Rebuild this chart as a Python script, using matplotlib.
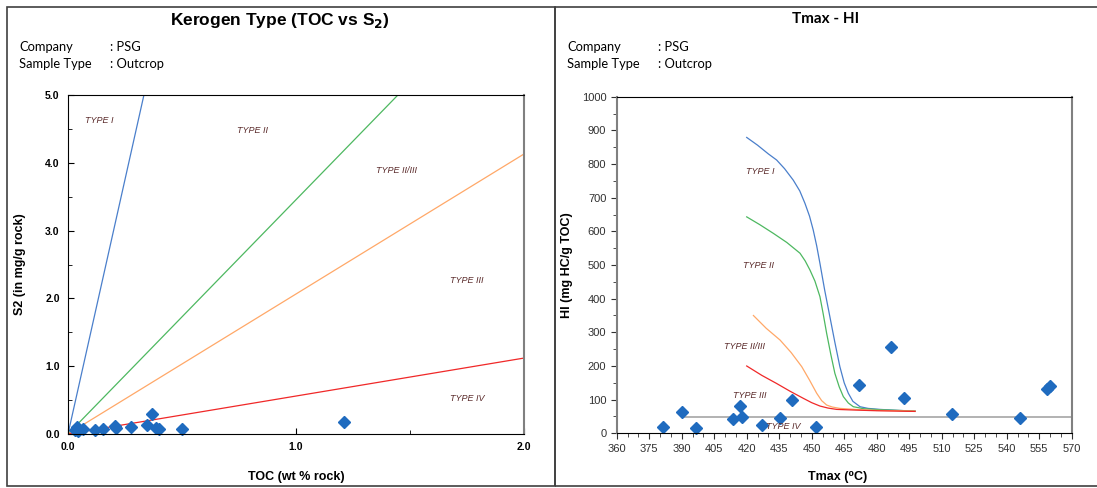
import numpy as np
import matplotlib.pyplot as plt
from matplotlib.patches import Rectangle
from matplotlib.ticker import MultipleLocator

plt.rcParams['font.family'] = ['Liberation Sans', 'DejaVu Sans']

# --- TOC vs S2 samples ---
toc = [0.03, 0.04, 0.045, 0.065, 0.12, 0.155, 0.205, 0.21, 0.275, 0.345, 0.37, 0.385, 0.40, 0.50, 1.21]
s2 = [0.06, 0.11, 0.04, 0.07, 0.06, 0.07, 0.12, 0.09, 0.11, 0.13, 0.30, 0.09, 0.07, 0.08, 0.17]

# kerogen boundary lines (TOC, S2 end points)
kero_toc = [[0, 0.333], [0, 1.447], [0, 2.0], [0, 2.0]]
kero_s2 = [[0, 5.0], [0, 5.0], [0, 4.13], [0, 1.12]]
kero_col = ['#4A7FCB', '#4DB860', '#FFA868', '#F02828']

# --- Tmax vs HI samples ---
tmax = [381.5, 390.3, 396.6, 413.5, 417.1, 417.7, 426.9, 435.5, 441.1, 451.8,
        472.0, 486.6, 492.7, 514.9, 546.3, 558.8, 559.8]
hi = [18, 63, 15, 41, 81, 48, 24, 44, 100, 18, 144, 255, 106, 58, 46, 133, 140]

# maturation curves
t1 = [420, 425, 430, 433.8, 437.5, 441.5, 444.5, 446.9, 449, 450.7, 452.3, 453.8,
      456, 458.4, 460.7, 463.0, 465, 466.9, 469, 472.3, 476, 481.5, 490, 497.7]
h1 = [879, 856, 830, 812, 786, 752, 720, 683, 645, 604, 557, 505,
      425, 346, 270, 198, 150, 119, 95, 79, 74, 71, 68, 66]
t2 = [420, 426, 432.3, 438.5, 444.6, 447, 449.2, 451.5, 453.8, 455.3, 456.9, 458.8,
      460.7, 462.7, 464.6, 466.9, 469.2, 474, 481.5, 490, 497.7]
h2 = [643, 620, 594, 567, 535, 512, 485, 452, 406, 355, 297, 235,
      178, 138, 109, 90, 79, 73, 70, 68, 66]
t23 = [423.1, 429, 435.4, 440.5, 445.4, 449, 452.3, 454.6, 456.9, 459.5, 463.0, 470, 480.0, 497.7]
h23 = [350, 312, 277, 240, 198, 158, 119, 97, 84, 78, 74, 71, 68, 66]
t3 = [420, 427, 433.8, 440, 446.1, 450, 453.8, 457.5, 461.5, 470, 480.0, 497.7]
h3 = [200, 172, 148, 125, 104, 91, 81, 75, 71, 69, 67, 65]

fig = plt.figure(figsize=(10.97, 4.88), dpi=100)

# panel frames
fig.add_artist(Rectangle((7 / 1097, 2 / 488), 548 / 1097, 479 / 488, transform=fig.transFigure,
                         fill=False, edgecolor='#404040', lw=1.2))
fig.add_artist(Rectangle((555 / 1097, 2 / 488), 560 / 1097, 479 / 488, transform=fig.transFigure,
                         fill=False, edgecolor='#404040', lw=1.2))

lab_col = '#5A2A2A'
blue = '#1F6BBF'

# ---------------- left chart ----------------
ax1 = fig.add_axes([68 / 1097, 1 - 434 / 488, 456 / 1097, 339 / 488])
for xs, ys, c in zip(kero_toc, kero_s2, kero_col):
    ax1.plot(xs, ys, color=c, lw=0.9)
ax1.plot(toc, s2, 'D', color=blue, ms=6.5, mec=blue, clip_on=False)
ax1.set_xlim(0, 2.0)
ax1.set_ylim(0, 5.0)
ax1.xaxis.set_major_locator(MultipleLocator(1.0))
ax1.xaxis.set_minor_locator(MultipleLocator(0.5))
ax1.yaxis.set_major_locator(MultipleLocator(1.0))
ax1.yaxis.set_minor_locator(MultipleLocator(0.5))
ax1.xaxis.set_major_formatter('{x:.1f}')
ax1.yaxis.set_major_formatter('{x:.1f}')
ax1.tick_params(which='both', direction='in', labelsize=7.5, pad=6)
ax1.tick_params(which='major', length=4)
ax1.tick_params(which='minor', length=3)
for t in ax1.get_xticklabels() + ax1.get_yticklabels():
    t.set_fontweight('bold')
ax1.spines['right'].set_color('#808080')
ax1.spines['right'].set_linewidth(1.5)
ax1.set_ylabel('S2 (in mg/g rock)', fontsize=9, fontweight='bold', labelpad=14)
fig.text(296 / 1097, 1 - 477 / 488, 'TOC (wt % rock)', fontsize=9, fontweight='bold',
         ha='center', va='center')

left_types = ['TYPE I', 'TYPE II', 'TYPE II/III', 'TYPE III', 'TYPE IV']
left_tx = [0.136, 0.81, 1.44, 1.75, 1.75]
left_ty = [4.62, 4.48, 3.88, 2.26, 0.52]
for s, x, y in zip(left_types, left_tx, left_ty):
    ax1.text(x, y, s, fontsize=6.5, style='italic', color=lab_col, ha='center', va='center')

# ---------------- right chart ----------------
ax2 = fig.add_axes([616.7 / 1097, 1 - 433.3 / 488, 455 / 1097, 336.6 / 488])
ax2.plot([390, 570], [49, 49], color='#A6A6A6', lw=1.2)
ax2.plot(t1, h1, color='#4A7FCB', lw=0.9)
ax2.plot(t2, h2, color='#4DB860', lw=0.9)
ax2.plot(t23, h23, color='#FFA868', lw=0.9)
ax2.plot(t3, h3, color='#F02828', lw=0.9)
ax2.plot(tmax, hi, 'D', color=blue, ms=6.5, mec=blue, clip_on=False)
ax2.set_xlim(360, 570)
ax2.set_ylim(0, 1000)
ax2.xaxis.set_major_locator(MultipleLocator(15))
ax2.xaxis.set_minor_locator(MultipleLocator(5))
ax2.yaxis.set_major_locator(MultipleLocator(100))
ax2.yaxis.set_minor_locator(MultipleLocator(50))
ax2.tick_params(which='both', direction='out', labelsize=8, colors='#303030')
ax2.tick_params(which='major', length=4)
ax2.tick_params(which='minor', length=3)
for side in ['left', 'right']:
    ax2.spines[side].set_color('#808080')
    ax2.spines[side].set_linewidth(1.5)
ax2.set_ylabel('HI (mg HC/g TOC)', fontsize=9, fontweight='bold', labelpad=6)
fig.text(838 / 1097, 1 - 477 / 488, 'Tmax (⁰C)', fontsize=9, fontweight='bold',
         ha='center', va='center')

right_types = ['TYPE I', 'TYPE II', 'TYPE II/III', 'TYPE III', 'TYPE IV']
right_tx = [426.2, 425.4, 418.8, 421.5, 436.9]
right_ty = [777, 498, 259, 111, 20]
for s, x, y in zip(right_types, right_tx, right_ty):
    ax2.text(x, y, s, fontsize=6.5, style='italic', color=lab_col, ha='center', va='center')

# titles and header info
fig.text(280 / 1097, 1 - 21 / 488, 'Kerogen Type (TOC vs S$_\\mathbf{2}$)', fontsize=12.5,
         fontweight='bold', ha='center', va='center')
fig.text(826 / 1097, 1 - 19 / 488, 'Tmax - HI', fontsize=11, fontweight='bold',
         family='Lato', ha='center', va='center')
for x0, x1 in [(19, 110), (567, 658)]:
    fig.text(x0 / 1097, 1 - 47 / 488, 'Company', fontsize=9.3, family='Lato', va='center')
    fig.text(x1 / 1097, 1 - 47 / 488, ': PSG', fontsize=9.3, family='Lato', va='center')
    fig.text(x0 / 1097, 1 - 64 / 488, 'Sample Type', fontsize=9.3, family='Lato', va='center')
    fig.text(x1 / 1097, 1 - 64 / 488, ': Outcrop', fontsize=9.3, family='Lato', va='center')

plt.savefig('out.png', dpi=100)
